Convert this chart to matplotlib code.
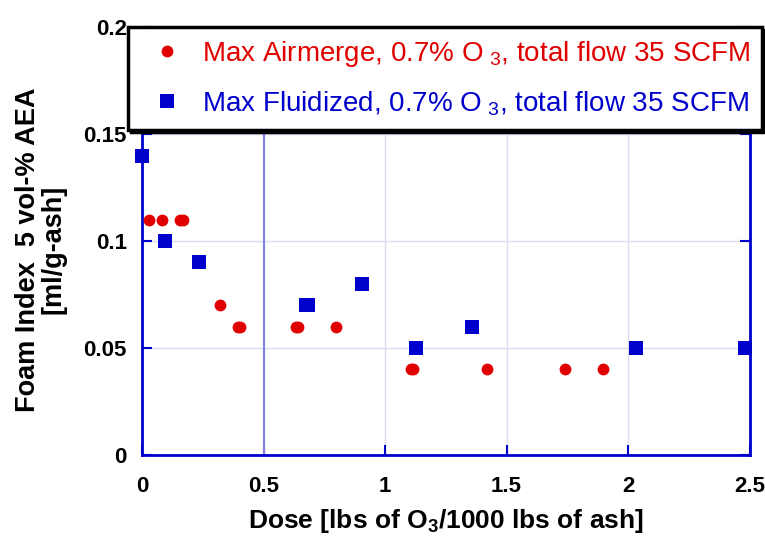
import matplotlib
matplotlib.use("Agg")
import matplotlib.pyplot as plt

# ---------------------------------------------------------
# Data
# ---------------------------------------------------------
airmerge_dose = [0.029, 0.082, 0.155, 0.167, 0.32, 0.395, 0.405, 0.632, 0.642,
                 0.797, 1.105, 1.115, 1.42, 1.74, 1.896]
airmerge_foam = [0.11, 0.11, 0.11, 0.11, 0.07, 0.06, 0.06, 0.06, 0.06,
                 0.06, 0.04, 0.04, 0.04, 0.04, 0.04]

fluid_dose = [0.0, 0.094, 0.234, 0.675, 0.682, 0.906, 1.128, 1.358, 2.033, 2.48]
fluid_foam = [0.14, 0.10, 0.09, 0.07, 0.07, 0.08, 0.05, 0.06, 0.05, 0.05]

x_ticks = [0, 0.5, 1, 1.5, 2, 2.5]
x_tick_labels = ["0", "0.5", "1", "1.5", "2", "2.5"]
y_ticks = [0, 0.05, 0.1, 0.15, 0.2]
y_tick_labels = ["0", "0.05", "0.1", "0.15", "0.2"]

RED = "#E00000"
BLUE = "#0000CC"

plt.rcParams["font.family"] = ["Liberation Sans", "DejaVu Sans"]
plt.rcParams["mathtext.fontset"] = "custom"
plt.rcParams["mathtext.rm"] = "Liberation Sans"
plt.rcParams["mathtext.bf"] = "Liberation Sans:bold"

fig = plt.figure(figsize=(7.65, 5.43), dpi=100)
ax = fig.add_axes([0.1856, 0.162, 0.7944, 0.788])

# grid (the 0.5 line is drawn darker in the original)
ax.set_axisbelow(True)
ax.grid(True, color="#dcdcf0", linewidth=1.0)
ax.axvline(0.5, color="#8080e8", linewidth=1.5, zorder=1)

ax.plot(airmerge_dose, airmerge_foam, "o", color=RED, markersize=8.5,
        markeredgewidth=0, clip_on=False, zorder=3,
        label=r"Max Airmerge, 0.7% O$_{\ 3}$, total flow 35 SCFM")
ax.plot(fluid_dose, fluid_foam, "s", color=BLUE, markersize=9.5,
        markeredgewidth=0, clip_on=False, zorder=3,
        label=r"Max Fluidized, 0.7% O$_{\ 3}$, total flow 35 SCFM")

ax.set_xlim(0, 2.5)
ax.set_ylim(0, 0.2)
ax.set_xticks(x_ticks)
ax.set_xticklabels(x_tick_labels, fontweight="bold", fontsize=16)
ax.set_yticks(y_ticks)
ax.set_yticklabels(y_tick_labels, fontweight="bold", fontsize=16)

for s in ax.spines.values():
    s.set_color(BLUE)
    s.set_linewidth(2)
ax.tick_params(direction="in", length=7, width=1.5, color=BLUE,
               right=True, top=False)
ax.tick_params(axis="y", pad=11)
ax.tick_params(axis="x", pad=15)

ax.set_xlabel(r"Dose [lbs of O$_{\mathbf{3}}$/1000 lbs of ash]", fontsize=19,
              fontweight="bold", labelpad=7)
ax.set_ylabel("Foam Index  5 vol-% AEA\n[ml/g-ash]", fontsize=19.5,
              fontweight="bold", linespacing=0.95)
ax.yaxis.set_label_coords(-0.125, 0.48)

leg = fig.legend(loc="upper right", bbox_to_anchor=(0.9961, 0.9503),
                 borderaxespad=0, fontsize=20, frameon=True, fancybox=False,
                 shadow={"color": "black", "alpha": 1},
                 handletextpad=0.28, labelspacing=0.72, borderpad=0.43,
                 handlelength=1.94)
leg.get_frame().set_edgecolor("black")
leg.get_frame().set_linewidth(2.5)
leg.set_zorder(5)
for txt, c in zip(leg.get_texts(), [RED, BLUE]):
    txt.set_color(c)

fig.savefig("out.png", dpi=100)
